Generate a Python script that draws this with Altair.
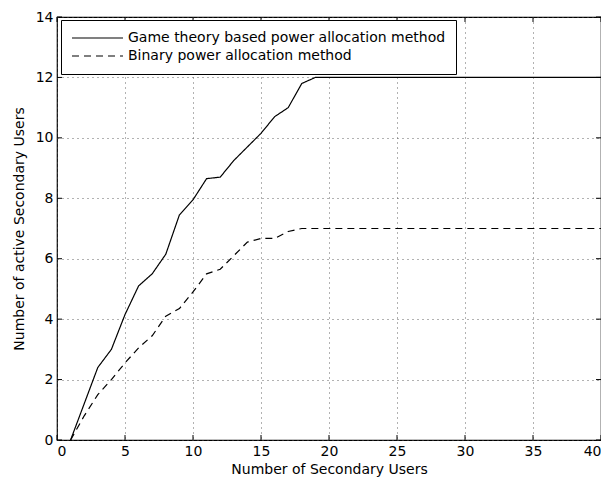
import altair as alt
import pandas as pd

x_vals = list(range(1, 41))
game_theory = [0, 1.2, 2.4, 3.0, 4.15, 5.1, 5.5, 6.15, 7.45, 7.95, 8.65, 8.7, 9.25, 9.7,
               10.15, 10.7, 11.0, 11.8, 12.0] + [12.0] * 21
binary = [0, 0.8, 1.5, 2.0, 2.55, 3.05, 3.45, 4.1, 4.35, 4.9, 5.5, 5.65, 6.1, 6.55,
          6.67, 6.67, 6.9, 7.0] + [7.0] * 22
series_names = ["Game theory based power allocation method", "Binary power allocation method"]
x_ticks = [0, 5, 10, 15, 20, 25, 30, 35, 40]
y_ticks = [0, 2, 4, 6, 8, 10, 12, 14]

rows = []
for name, vals in zip(series_names, [game_theory, binary]):
    for xv, yv in zip(x_vals, vals):
        rows.append({"x": xv, "y": yv, "series": name})
df = pd.DataFrame(rows)

W, H = 544, 423
FONT = "DejaVu Sans"
FS = 14
xs = alt.Scale(domain=[0, 40], nice=False)
ys = alt.Scale(domain=[0, 14], nice=False)

lines = alt.Chart(df).mark_line(color="black", strokeWidth=1.2).encode(
    x=alt.X("x:Q", scale=xs, title="Number of Secondary Users",
            axis=alt.Axis(values=x_ticks, grid=True, gridDash=[1, 4], gridColor="#555555",
                          gridOpacity=0.9, ticks=False, domain=False, labelPadding=4,
                          titlePadding=4, labelFontSize=FS, titleFontSize=FS,
                          labelFont=FONT, titleFont=FONT, titleFontWeight="normal",
                          labelColor="black", titleColor="black")),
    y=alt.Y("y:Q", scale=ys, title="Number of active Secondary Users",
            axis=alt.Axis(values=y_ticks, grid=True, gridDash=[1, 4], gridColor="#555555",
                          gridOpacity=0.9, ticks=False, domain=False, labelPadding=4,
                          titlePadding=9, labelFontSize=FS, titleFontSize=FS,
                          labelFont=FONT, titleFont=FONT, titleFontWeight="normal",
                          labelColor="black", titleColor="black")),
    strokeDash=alt.StrokeDash("series:N",
                              scale=alt.Scale(domain=series_names, range=[[1, 0], [7, 5]]),
                              legend=alt.Legend(title=None, orient="none", legendX=4, legendY=3,
                                                strokeColor="black", fillColor="white",
                                                padding=10, symbolType="stroke",
                                                symbolSize=2600, symbolStrokeWidth=1.2,
                                                symbolStrokeColor="black", clipHeight=16,
                                                labelFontSize=FS, labelFont=FONT,
                                                labelColor="black", rowPadding=2,
                                                labelOffset=4, labelLimit=420)),
)

xt = pd.DataFrame({"v": x_ticks})
yt = pd.DataFrame({"v": y_ticks})
tick_b = alt.Chart(xt).mark_rule(color="black").encode(
    x=alt.X("v:Q", scale=xs), y=alt.value(H), y2=alt.value(H - 5))
tick_t = alt.Chart(xt).mark_rule(color="black").encode(
    x=alt.X("v:Q", scale=xs), y=alt.value(0), y2=alt.value(5))
tick_l = alt.Chart(yt).mark_rule(color="black").encode(
    y=alt.Y("v:Q", scale=ys), x=alt.value(0), x2=alt.value(5))
tick_r = alt.Chart(yt).mark_rule(color="black").encode(
    y=alt.Y("v:Q", scale=ys), x=alt.value(W), x2=alt.value(W - 5))

chart = alt.layer(tick_b, tick_t, tick_l, tick_r, lines).properties(
    width=W, height=H,
    autosize=alt.AutoSizeParams(type="none"),
    padding={"left": 49, "top": 9, "right": 0, "bottom": 40},
).configure_view(stroke="black", strokeWidth=1.2)

chart.save("out.html", embed_options={"renderer": "svg", "actions": False})
